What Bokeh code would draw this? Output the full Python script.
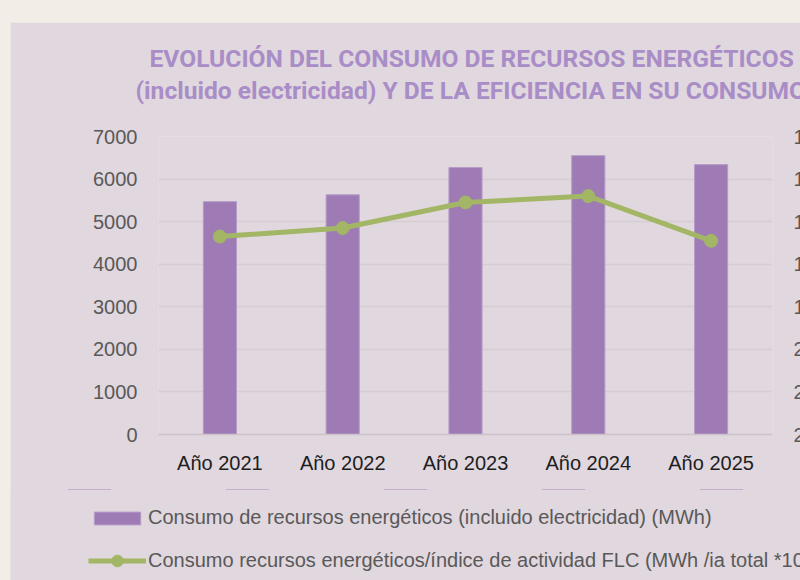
from bokeh.plotting import figure
from bokeh.models import (Range1d, FactorRange, ColumnDataSource, Legend, LegendItem,
                          LinearAxis, Title, FixedTicker, GlobalInlineStyleSheet)
from bokeh.embed import file_html
from bokeh.resources import INLINE

# ---- data ----
years = ["Año 2021", "Año 2022", "Año 2023", "Año 2024", "Año 2025"]
consumo_mwh = [5470, 5630, 6270, 6550, 6340]
consumo_ia = [14.7, 14.3, 13.1, 12.8, 14.9]
left_ticks = [0, 1000, 2000, 3000, 4000, 5000, 6000, 7000]
right_ticks = [10, 12, 14, 16, 18, 20, 22, 24]
title_lines = ["EVOLUCIÓN DEL CONSUMO DE RECURSOS ENERGÉTICOS",
               "(incluido electricidad) Y DE LA EFICIENCIA EN SU CONSUMO"]
legend_labels = ["Consumo de recursos energéticos (incluido electricidad) (MWh)",
                 "Consumo recursos energéticos/índice de actividad FLC (MWh /ia total *1000)"]

BG = "#e1d7de"
PAGE = "#f2ede6"
PURPLE = "#9e7bb5"
BAR_EDGE = "#b59cc8"
GREEN = "#a2b665"
TITLE_C = "#a98dc7"
GRAY = "#595959"

src = ColumnDataSource(dict(year=years, mwh=consumo_mwh, ia=consumo_ia))

p = figure(x_range=FactorRange(*years), y_range=Range1d(0, 7000),
           frame_width=614, frame_height=298, output_backend="svg", toolbar_location=None,
           min_border_left=148, min_border_right=0, min_border_top=114, min_border_bottom=56,
           background_fill_color=BG, border_fill_color=BG, outline_line_color=None,
           margin=(22, 0, 0, 10))
p.stylesheets = [GlobalInlineStyleSheet(
    css=f"html, body {{ background-color: {PAGE}; overflow: hidden; }}")]

p.extra_y_ranges = {"ia": Range1d(start=24, end=10)}   # reversed secondary scale

# axes
p.yaxis.ticker = FixedTicker(ticks=left_ticks)
ax_r = LinearAxis(y_range_name="ia", ticker=FixedTicker(ticks=right_ticks))
p.add_layout(ax_r, "right")
for ax in (p.yaxis[0], ax_r):
    ax.axis_line_color = None
    ax.major_tick_line_color = None
    ax.minor_tick_line_color = None
    ax.major_tick_out = 0
    ax.minor_tick_out = 0
    ax.major_label_text_font = "Liberation Sans"
    ax.major_label_text_font_size = "20px"
    ax.major_label_text_color = GRAY
    ax.major_label_standoff = 21

p.xaxis.axis_line_color = "#cbc3c9"
p.xaxis.axis_line_width = 1.5
p.xaxis.major_tick_line_color = None
p.xaxis.minor_tick_line_color = None
p.xaxis.major_tick_out = 0
p.xaxis.major_label_text_font = "Liberation Sans"
p.xaxis.major_label_text_font_size = "20px"
p.xaxis.major_label_text_color = "#1e1e1e"
p.xaxis.major_label_standoff = 17

p.xgrid.grid_line_color = None
p.ygrid.ticker = FixedTicker(ticks=left_ticks)
p.ygrid.grid_line_color = "#d5cdd3"
p.ygrid.grid_line_width = 1.5

bars = p.vbar(x="year", top="mwh", width=0.27, source=src,
              fill_color=PURPLE, line_color=BAR_EDGE, line_width=1)
ln = p.line(x="year", y="ia", source=src, y_range_name="ia",
            line_color=GREEN, line_width=5)
pts = p.scatter(x="year", y="ia", source=src, y_range_name="ia",
                size=13, fill_color=GREEN, line_color=GREEN)

# title: blank spacer next to the plot, then line 2, then line 1
TFS = "24.6px"
p.add_layout(Title(text=" ", standoff=0, text_font="Roboto",
                   text_font_size=TFS, text_color=BG), "above")
for txt, so, off in zip(reversed(title_lines), [2, 0], [-23, -9]):
    p.add_layout(Title(text=txt, align="left", offset=off, standoff=so,
                       text_font="Roboto", text_font_style="bold",
                       text_font_size=TFS, text_color=TITLE_C), "above")

# ---- legend strip under the chart (same series, kept out of view) ----
pl = figure(width=790, height=91, x_range=FactorRange(*years), y_range=Range1d(-2, -1),
            output_backend="svg", toolbar_location=None, min_border=0,
            x_axis_location=None, y_axis_location=None,
            background_fill_color=BG, border_fill_color=BG, outline_line_color=None,
            margin=(-1, 0, 0, 10))
pl.grid.visible = False
lg_bar = pl.vbar(x="year", top="mwh", bottom="mwh", width=0.27, source=src,
                 fill_color=PURPLE, line_color=BAR_EDGE, line_width=1)
lg_ln = pl.line(x="year", y="ia", source=src, line_color=GREEN, line_width=5)
lg_pt = pl.scatter(x="year", y="ia", source=src, size=13,
                   fill_color=GREEN, line_color=GREEN)

def mk_legend(items, gh, loc):
    lg = Legend(items=items, location=loc, orientation="vertical",
                glyph_width=58, glyph_height=gh, label_standoff=2,
                padding=0, margin=0, spacing=0, border_line_color=None,
                background_fill_alpha=0, label_text_font="Liberation Sans",
                label_text_font_size="20px", label_text_color=GRAY)
    pl.add_layout(lg, "center")

mk_legend([LegendItem(label=legend_labels[0], renderers=[lg_bar])], 16, (78, 51))
mk_legend([LegendItem(label=legend_labels[1], renderers=[lg_ln, lg_pt])], 29, (78, 5))

open("out.html", "w").write(file_html([p, pl], INLINE))
